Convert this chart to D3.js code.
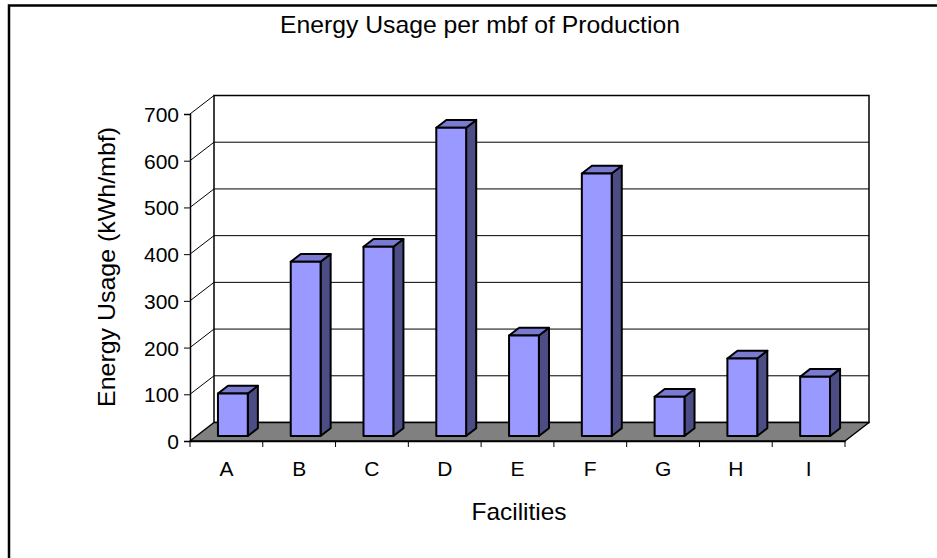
<!DOCTYPE html>
<html>
<head>
<meta charset="utf-8">
<script src="https://cdn.jsdelivr.net/npm/d3@7"></script>
<style>
  html, body { margin: 0; padding: 0; background: #fff; }
  svg { display: block; }
  text { font-family: "Liberation Sans", Arial, sans-serif; fill: #000; }
</style>
</head>
<body>
<svg id="chart" width="937" height="558"></svg>
<script>
const categories = ["A", "B", "C", "D", "E", "F", "G", "H", "I"];
const values = [91, 373, 405, 660, 215, 562, 84, 166, 127];
const yTicks = [0, 100, 200, 300, 400, 500, 600, 700];
const chartTitle = "Energy Usage per mbf of Production";
const yTitle = "Energy Usage (kWh/mbf)";
const xTitle = "Facilities";

const svg = d3.select("#chart");
const W = 937, H = 558;

// outer frame
svg.append("rect").attr("x", 9).attr("y", 5.5).attr("width", W).attr("height", H)
  .attr("fill", "none").attr("stroke", "#000").attr("stroke-width", 2.5);

const x = d3.scaleBand().domain(categories).range([190, 845]);
const y = d3.scaleLinear().domain([0, 700]).range([441, 114]);
const DX = 24, DY = -18.5;
const P = (px, py, f) => [px + f * DX, py + f * DY];
const poly = pts => pts.map(p => p.join(",")).join(" ");

const x0 = x.range()[0], x1 = x.range()[1];

// back wall
const bw = [P(x0, y(700), 1), P(x1, y(700), 1), P(x1, y(0), 1), P(x0, y(0), 1)];
svg.append("polygon").attr("points", poly(bw)).attr("fill", "#fff")
  .attr("stroke", "#000").attr("stroke-width", 1.5);

// gridlines on back wall + side wall
yTicks.forEach(t => {
  if (t === 0) return;
  const a = P(x0, y(t), 1), b = P(x1, y(t), 1), c = P(x0, y(t), 0);
  svg.append("line").attr("x1", a[0]).attr("y1", a[1]).attr("x2", b[0]).attr("y2", b[1])
    .attr("stroke", "#000").attr("stroke-width", 1);
  svg.append("line").attr("x1", c[0]).attr("y1", c[1]).attr("x2", a[0]).attr("y2", a[1])
    .attr("stroke", "#000").attr("stroke-width", 1);
});

// floor
const fl = [P(x0, y(0), 0), P(x1, y(0), 0), P(x1, y(0), 1), P(x0, y(0), 1)];
svg.append("polygon").attr("points", poly(fl)).attr("fill", "#808080")
  .attr("stroke", "#000").attr("stroke-width", 1.5).attr("stroke-linejoin", "round");

// y axis
const yAxis = d3.axisLeft(y).tickValues(yTicks).tickSize(6).tickPadding(5);
const gy = svg.append("g").attr("transform", `translate(${x0},0)`).call(yAxis);
gy.select(".domain").attr("stroke", "#000").attr("stroke-width", 1.5);
gy.selectAll(".tick line").attr("stroke", "#000").attr("stroke-width", 1);
gy.selectAll(".tick text").style("font-size", "21px").style("font-family", "Liberation Sans, Arial, sans-serif")
  .attr("dy", "0.36em");

// x axis
const xAxis = d3.axisBottom(x).tickSize(0).tickPadding(20);
const gx = svg.append("g").attr("transform", `translate(0,${y(0)})`).call(xAxis);
gx.select(".domain").attr("stroke", "#000").attr("stroke-width", 1.5);
gx.selectAll(".tick text").style("font-size", "21px").style("font-family", "Liberation Sans, Arial, sans-serif");
// category boundary ticks
const bounds = categories.map(c => x(c)).concat([x1]);
svg.append("g").selectAll("line").data(bounds).join("line")
  .attr("x1", d => d).attr("x2", d => d).attr("y1", y(0)).attr("y2", y(0) + 6)
  .attr("stroke", "#000").attr("stroke-width", 1);

// bars
const F0 = 0.27, F1 = 0.69;
const bwid = x.bandwidth() * 0.41;
const bars = svg.append("g");
categories.forEach((c, i) => {
  const v = values[i];
  const cx = x(c) + x.bandwidth() / 2;
  const L = cx - bwid / 2, R = cx + bwid / 2;
  const top = [P(L, y(v), F0), P(R, y(v), F0), P(R, y(v), F1), P(L, y(v), F1)];
  const side = [P(R, y(v), F0), P(R, y(v), F1), P(R, y(0), F1), P(R, y(0), F0)];
  const front = [P(L, y(v), F0), P(R, y(v), F0), P(R, y(0), F0), P(L, y(0), F0)];
  const g = bars.append("g").attr("stroke", "#000").attr("stroke-width", 2).attr("stroke-linejoin", "round");
  g.append("polygon").attr("points", poly(side)).attr("fill", "#4d4d85");
  g.append("polygon").attr("points", poly(top)).attr("fill", "#7a7ad2");
  g.append("polygon").attr("points", poly(front)).attr("fill", "#9999ff");
});

// titles
svg.append("text").attr("x", 480).attr("y", 33).attr("text-anchor", "middle")
  .style("font-size", "24px").attr("textLength", 400).attr("lengthAdjust", "spacingAndGlyphs")
  .text(chartTitle);
svg.append("text").attr("transform", "translate(115,267) rotate(-90)").attr("text-anchor", "middle")
  .style("font-size", "24px").attr("textLength", 280).attr("lengthAdjust", "spacingAndGlyphs")
  .text(yTitle);
svg.append("text").attr("x", 519).attr("y", 520).attr("text-anchor", "middle")
  .style("font-size", "24px").attr("textLength", 95).attr("lengthAdjust", "spacingAndGlyphs")
  .text(xTitle);
</script>
</body>
</html>
